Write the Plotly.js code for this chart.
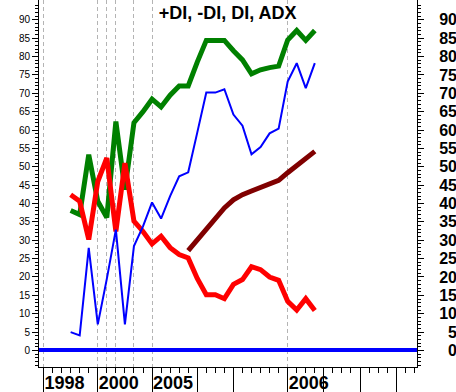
<!DOCTYPE html>
<html>
<head>
<meta charset="utf-8">
<script src="https://cdn.plot.ly/plotly-3.0.1.min.js"></script>
<style>html,body{margin:0;padding:0;background:#fff;}#chart{width:456px;height:392px;}</style>
</head>
<body>
<div id="chart"></div>
<script>
// Period index (equal spacing on the chart)
const periods = [0,1,2,3,4,5,6,7,8,9,10,11,12,13,14,15,16,17,18,19,20,21,22,23,24,25,26,27];
// +DI (green)
const plusDI = [38.1,37,53.3,40.6,36.2,62.3,43.8,62,65,68.4,66.3,69.5,72,72,78.5,84.4,84.4,84.4,81.6,79.1,75.3,76.4,77,77.4,84.5,87.1,84.4,87.1];
// -DI (red)
const minusDI = [42.4,40.6,30.2,46,52.4,32.4,51,35.2,32.4,29,31.1,28,26.1,25.2,19.6,15.2,15.2,14.1,18,19.3,22.8,22,20,19.1,13.4,11,14.1,10.9];
// DI (blue)
const diLine = [5,4.1,27.9,7.1,19.5,32.9,7.1,28.4,33.8,40.3,35.9,42,47.4,48.5,59.3,70.2,70.2,71.1,64.2,61.2,53.4,55.4,59.1,60.4,73.2,78.2,71.4,78.2];
// ADX (dark red)
const adxLine = [null,null,null,null,null,null,null,null,null,null,null,null,null,27.2,30,32.9,35.9,38.8,41,42.4,43.4,44.4,45.4,46.3,48.4,50.3,52.3,54.2];

// Axis ticks
const yTicks = [0,5,10,15,20,25,30,35,40,45,50,55,60,65,70,75,80,85,90];
const yearGridVals = [-3,3,4,5,7,9,24];
const yearGridText = ['1998','2000','','','','2005','2006'];
const longTicks = [-3,3,9,14,18,24,28,32,36];

const FONT = 'Arial, "Liberation Sans", sans-serif';
const rightText = yTicks.map(v => (v < 10 ? '\u2007' : '') + v);
const minorY = []; for (let v = -4; v <= 95; v++) if (v % 5 !== 0) minorY.push(v);
const minorX = []; for (let v = -3; v <= 38; v++) if (longTicks.indexOf(v) < 0) minorX.push(v);

const traces = [
  {x: periods, y: plusDI, type: 'scatter', mode: 'lines', line: {color: '#008000', width: 5}, name: '+DI', hoverinfo: 'skip'},
  {x: periods, y: minusDI, type: 'scatter', mode: 'lines', line: {color: '#ff0000', width: 5}, name: '-DI', hoverinfo: 'skip'},
  {x: periods, y: adxLine, type: 'scatter', mode: 'lines', line: {color: '#800000', width: 5}, name: 'ADX', hoverinfo: 'skip'},
  {x: periods, y: diLine, type: 'scatter', mode: 'lines', line: {color: '#0000ff', width: 2}, name: 'DI', xaxis: 'x2', yaxis: 'y2', hoverinfo: 'skip'}
];

const layout = {
  width: 456, height: 392,
  margin: {l: 39, r: 39, t: 0, b: 25, pad: 0},
  paper_bgcolor: '#ffffff', plot_bgcolor: '#ffffff',
  showlegend: false,
  title: {text: '+DI, -DI, DI, ADX', font: {family: FONT, size: 18, weight: 'bold', color: '#000'},
          x: 0.499, xanchor: 'center', y: 1 - 13/392, yanchor: 'middle', xref: 'paper', yref: 'container'},
  xaxis: {
    range: [-3.5, 38.3], tickmode: 'array', tickvals: yearGridVals, ticktext: yearGridText,
    showgrid: true, gridcolor: '#b4b4b4', gridwidth: 1, griddash: '4px,3px',
    zeroline: false, showline: false, ticks: '', ticklabelshift: 21, ticklabelstandoff: 3,
    tickfont: {family: FONT, size: 18, weight: 'bold', color: '#000'}
  },
  xaxis2: {
    overlaying: 'x', matches: 'x', anchor: 'y', side: 'bottom',
    tickmode: 'array', tickvals: longTicks, ticktext: longTicks.map(() => ''),
    ticks: 'outside', ticklen: 25, tickwidth: 1, tickcolor: '#000',
    minor: {tickmode: 'array', tickvals: minorX, ticks: 'outside', ticklen: 5, tickwidth: 1, tickcolor: '#000', showgrid: false},
    showgrid: false, zeroline: false, showline: true, linecolor: '#000', linewidth: 1, showticklabels: false
  },
  yaxis: {
    range: [-4.5, 95.4], tickmode: 'array', tickvals: yTicks,
    ticks: 'outside', ticklen: 6, tickwidth: 1, tickcolor: '#000',
    minor: {tickmode: 'array', tickvals: minorY, ticks: 'outside', ticklen: 3, tickwidth: 1, tickcolor: '#000', showgrid: false},
    showgrid: false, zeroline: true, zerolinecolor: '#0000ff', zerolinewidth: 4,
    showline: true, linecolor: '#000', linewidth: 1,
    tickfont: {family: FONT, size: 10, color: '#000'}
  },
  yaxis2: {
    overlaying: 'y', matches: 'y', anchor: 'x', side: 'right',
    tickmode: 'array', tickvals: yTicks, ticktext: rightText,
    ticks: 'outside', ticklen: 6, tickwidth: 1, tickcolor: '#000',
    minor: {tickmode: 'array', tickvals: minorY, ticks: 'outside', ticklen: 3, tickwidth: 1, tickcolor: '#000', showgrid: false},
    showgrid: false, zeroline: false, showline: true, linecolor: '#000', linewidth: 1,
    ticklabelstandoff: 12,
    tickfont: {family: FONT, size: 16, weight: 'bold', color: '#000'}
  }
};

Plotly.newPlot('chart', traces, layout, {displayModeBar: false, staticPlot: true});
</script>
</body>
</html>
